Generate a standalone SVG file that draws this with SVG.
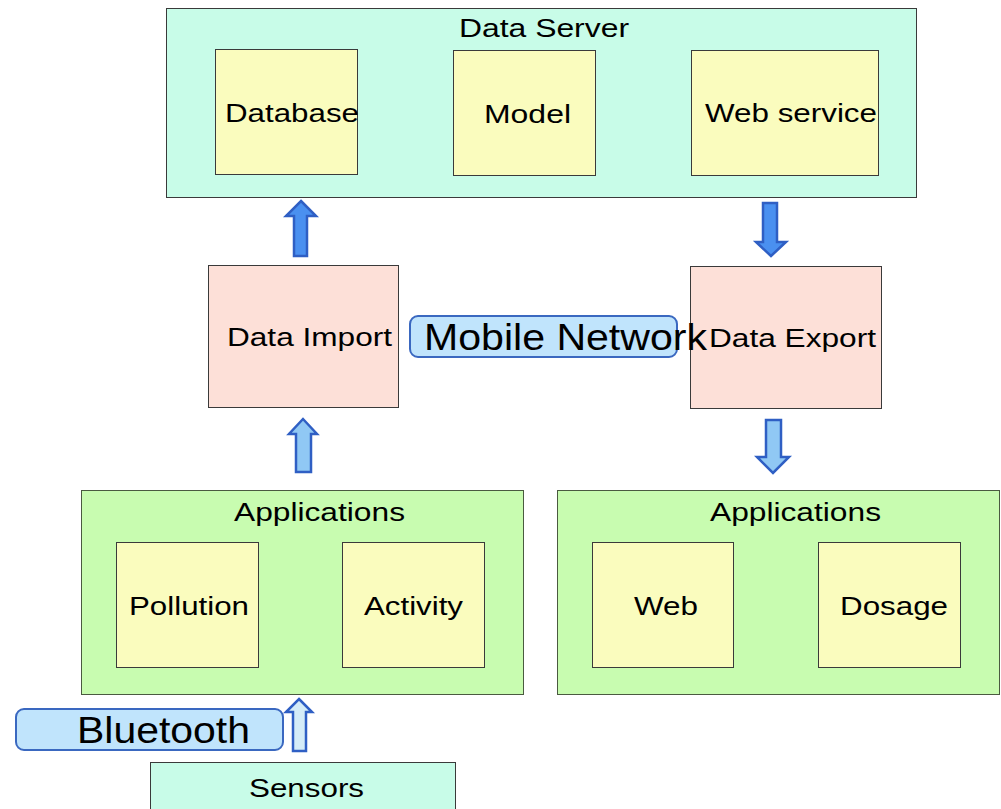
<svg xmlns="http://www.w3.org/2000/svg" width="1001" height="809" viewBox="0 0 1001 809">
<style>
text{font-family:"Liberation Sans",Arial,sans-serif;fill:#000;}
.t{font-size:26px;}
.big{font-size:37px;}
.mint{fill:#c8fce8;stroke:#3a3a3a;stroke-width:1;}
.yel{fill:#fafcbe;stroke:#3a3a3a;stroke-width:1;}
.pink{fill:#fde0d8;stroke:#3a3a3a;stroke-width:1;}
.grn{fill:#c8fcb0;stroke:#4a5a40;stroke-width:1;}
.lbl{fill:#c0e4fc;stroke:#3a68c0;stroke-width:2;}
.adark{fill:#4a90f0;stroke:#2f5fc4;stroke-width:2.5;}
.alight{fill:#90c8f4;stroke:#2f5fc4;stroke-width:2.5;}
.apale{fill:#d4ecf8;stroke:#2f5fc4;stroke-width:2.5;}
</style>
<g id="data-server">
<rect class="mint" x="166.5" y="8.5" width="750" height="189"/>
<text class="t" x="459" y="37" textLength="170" lengthAdjust="spacingAndGlyphs">Data Server</text>
</g>
<g id="database">
<rect class="yel" x="215.5" y="49.5" width="142" height="125"/>
<text class="t" x="225" y="122" textLength="134" lengthAdjust="spacingAndGlyphs">Database</text>
</g>
<g id="model">
<rect class="yel" x="453.5" y="50.5" width="142" height="125"/>
<text class="t" x="484" y="123" textLength="87" lengthAdjust="spacingAndGlyphs">Model</text>
</g>
<g id="web-service">
<rect class="yel" x="691.5" y="50.5" width="187" height="125"/>
<text class="t" x="705" y="122" textLength="172" lengthAdjust="spacingAndGlyphs">Web service</text>
</g>
<g id="data-import">
<rect class="pink" x="208.5" y="265.5" width="190" height="142"/>
<text class="t" x="227" y="346" textLength="165" lengthAdjust="spacingAndGlyphs">Data Import</text>
</g>
<g id="data-export">
<rect class="pink" x="690.5" y="266.5" width="191" height="142"/>
<text class="t" x="709" y="347" textLength="167" lengthAdjust="spacingAndGlyphs">Data Export</text>
</g>
<g id="mobile-network">
<rect class="lbl" x="410" y="316" width="267" height="41" rx="8"/>
<text class="big" x="424" y="350" textLength="283" lengthAdjust="spacingAndGlyphs">Mobile Network</text>
</g>
<g id="applications-left">
<rect class="grn" x="81.5" y="490.5" width="442" height="204"/>
<text class="t" x="234" y="521" textLength="171" lengthAdjust="spacingAndGlyphs">Applications</text>
</g>
<g id="pollution">
<rect class="yel" x="116.5" y="542.5" width="142" height="125"/>
<text class="t" x="129" y="615" textLength="120" lengthAdjust="spacingAndGlyphs">Pollution</text>
</g>
<g id="activity">
<rect class="yel" x="342.5" y="542.5" width="142" height="125"/>
<text class="t" x="364" y="615" textLength="99" lengthAdjust="spacingAndGlyphs">Activity</text>
</g>
<g id="applications-right">
<rect class="grn" x="557.5" y="490.5" width="442" height="204"/>
<text class="t" x="710" y="521" textLength="171" lengthAdjust="spacingAndGlyphs">Applications</text>
</g>
<g id="web">
<rect class="yel" x="592.5" y="542.5" width="141" height="125"/>
<text class="t" x="634" y="615" textLength="64" lengthAdjust="spacingAndGlyphs">Web</text>
</g>
<g id="dosage">
<rect class="yel" x="818.5" y="542.5" width="142" height="125"/>
<text class="t" x="840" y="615" textLength="108" lengthAdjust="spacingAndGlyphs">Dosage</text>
</g>
<g id="bluetooth">
<rect class="lbl" x="16" y="709" width="267" height="41" rx="8"/>
<text class="big" x="77" y="743" textLength="173" lengthAdjust="spacingAndGlyphs">Bluetooth</text>
</g>
<g id="sensors">
<rect class="mint" x="150.5" y="762.5" width="305" height="60"/>
<text class="t" x="249" y="797" textLength="115" lengthAdjust="spacingAndGlyphs">Sensors</text>
</g>
<g id="connectors">
<polygon class="adark" points="301,201 316,216 307,216 307,256 294,256 294,216 286,216"/>
<polygon class="adark" points="763,203 777,203 777,242 786,242 771,256 756,242 763,242"/>
<polygon class="alight" points="303,419 317,434 311,434 311,472 296,472 296,434 289,434"/>
<polygon class="alight" points="766,420 781,420 781,457 789,457 773,473 757,457 766,457"/>
<polygon class="apale" points="299,699 312,712 306,712 306,751 293,751 293,712 286,712"/>
</g>
</svg>
